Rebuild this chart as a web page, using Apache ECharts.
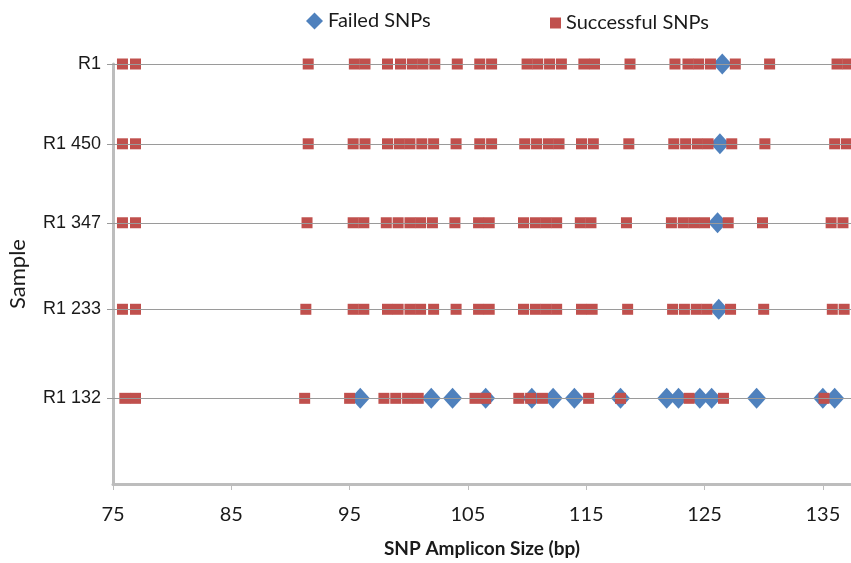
<!DOCTYPE html>
<html>
<head>
<meta charset="utf-8">
<script src="https://cdn.jsdelivr.net/npm/echarts@6/dist/echarts.min.js"></script>
<style>
  html, body { margin: 0; padding: 0; background: #fff; }
  #chart { width: 851px; height: 563px; }
</style>
</head>
<body>
<div id="chart"></div>
<script>
// Samples (bottom to top) and their vertical positions
const samples = ['R1 132', 'R1 233', 'R1 347', 'R1 450', 'R1'];
const sampleLevel = [1.02, 2.08, 3.11, 4.05, 5.0];

// SNP amplicon sizes (bp) per sample
const ok_R1 = [75.8,76.9,91.5,95.4,96.3,98.2,99.3,100.3,101.2,102.2,104.1,106.0,107.0,110.0,110.9,111.9,112.9,114.8,115.7,118.7,122.5,123.6,124.5,125.5,127.6,130.5,136.2,137.1];
const fail_R1 = [126.5];
const ok_R1_450 = [75.8,76.9,91.5,95.3,96.3,98.2,99.2,100.1,101.1,102.1,104.0,106.0,107.0,109.8,110.8,111.8,112.7,114.6,115.6,118.6,122.4,123.4,124.4,125.3,127.3,130.1,136.0,137.0];
const fail_R1_450 = [126.3];
const ok_R1_347 = [75.8,76.9,91.4,95.3,96.2,98.1,99.1,100.1,101.0,102.0,103.9,105.9,106.8,109.7,110.7,111.6,112.5,114.5,115.4,118.4,122.2,123.2,124.1,125.0,127.0,129.9,135.7,136.7];
const fail_R1_347 = [126.1];
const ok_R1_233 = [75.8,76.9,91.3,95.3,96.2,98.2,99.1,100.1,101.0,102.1,104.0,105.9,106.8,109.7,110.7,111.6,112.5,114.6,115.5,118.5,122.3,123.3,124.3,125.2,127.2,130.0,135.8,136.8];
const fail_R1_233 = [126.2];
const ok_R1_132 = [76.0,76.9,91.2,95.0,97.9,98.9,99.9,100.8,105.6,106.5,109.3,110.3,111.3,115.2,117.9,123.7,126.6,135.1];
const fail_R1_132 = [95.9,101.9,103.7,106.5,110.4,112.2,114.0,117.9,121.8,122.8,124.6,125.6,129.4,135.0,136.0];

const xTicks = [75, 85, 95, 105, 115, 125, 135];

const okBySample = [ok_R1_132, ok_R1_233, ok_R1_347, ok_R1_450, ok_R1];
const failBySample = [fail_R1_132, fail_R1_233, fail_R1_347, fail_R1_450, fail_R1];

function toPoints(lists) {
  const out = [];
  lists.forEach((arr, i) => arr.forEach(v => out.push([v, sampleLevel[i]])));
  return out;
}

const chart = echarts.init(document.getElementById('chart'), null, { renderer: 'canvas' });
const txt = '#1a1a1a';
const axisGray = '#bdbdbd';

chart.setOption({
  animation: false,
  backgroundColor: '#ffffff',
  grid: { left: 113, right: 0, top: 64, bottom: 79, containLabel: false, outerBoundsMode: 'none' },
  legend: [
    {
      data: [{ name: 'Failed SNPs', icon: 'diamond' }],
      left: 301, top: 6, itemWidth: 17, itemHeight: 17,
      textStyle: { fontFamily: 'Lato', fontSize: 20, color: txt }
    },
    {
      data: [{ name: 'Successful SNPs', icon: 'rect' }],
      left: 545, top: 8, itemWidth: 11, itemHeight: 11,
      textStyle: { fontFamily: 'Lato', fontSize: 20, color: txt }
    }
  ],
  xAxis: {
    type: 'value',
    min: 75, max: 137.38,
    name: 'SNP Amplicon Size (bp)',
    nameLocation: 'middle',
    nameGap: 55,
    nameTextStyle: { fontFamily: 'Lato', fontSize: 19, fontWeight: 'bold', color: txt },
    axisLine: { show: true, onZero: false, lineStyle: { color: axisGray, width: 3 } },
    axisTick: { show: true, length: 6, customValues: xTicks, lineStyle: { color: axisGray, width: 1 } },
    axisLabel: { customValues: xTicks, margin: 21, fontFamily: 'Lato', fontSize: 20, color: txt },
    splitLine: { show: false }
  },
  yAxis: {
    type: 'value',
    min: 0, max: 5,
    name: 'Sample',
    nameLocation: 'middle',
    nameRotate: 90,
    nameGap: 84,
    nameTextStyle: { fontFamily: 'Lato', fontSize: 22, color: txt },
    axisLine: { show: true, onZero: false, lineStyle: { color: axisGray, width: 3 } },
    axisTick: { show: true, length: 6, customValues: sampleLevel, lineStyle: { color: '#9a9a9a', width: 1 } },
    axisLabel: {
      customValues: sampleLevel, margin: 12,
      fontFamily: 'Liberation Sans', fontSize: 18, color: txt,
      formatter: function (v) {
        let best = 0, d = Infinity;
        sampleLevel.forEach((l, i) => { if (Math.abs(l - v) < d) { d = Math.abs(l - v); best = i; } });
        return samples[best];
      }
    },
    splitLine: { show: false }
  },
  series: [
    {
      name: 'rows',
      type: 'scatter',
      data: [],
      z: 1,
      silent: true,
      markLine: {
        silent: true,
        symbol: ['none', 'none'],
        label: { show: false },
        lineStyle: { color: '#9a9a9a', width: 1, type: 'solid' },
        emphasis: { disabled: true },
        data: sampleLevel.map(l => ({ yAxis: l }))
      }
    },
    {
      name: 'Failed SNPs',
      type: 'scatter',
      symbol: 'diamond',
      symbolSize: [19, 21],
      z: 2,
      itemStyle: { color: '#4F81BD', opacity: 1 },
      data: toPoints(failBySample)
    },
    {
      name: 'Successful SNPs',
      type: 'scatter',
      symbol: 'rect',
      symbolSize: 11,
      z: 3,
      itemStyle: { color: '#C0504D', opacity: 1 },
      data: toPoints(okBySample)
    }
  ]
});
</script>
</body>
</html>
